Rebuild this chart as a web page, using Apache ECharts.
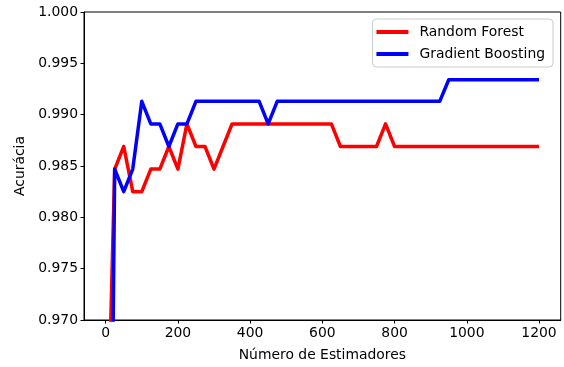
<!DOCTYPE html>
<html>
<head>
<meta charset="utf-8">
<script src="https://cdn.jsdelivr.net/npm/echarts@6/dist/echarts.min.js"></script>
<style>html,body{margin:0;padding:0;background:#fff}#c{width:564px;height:367px}</style>
</head>
<body>
<div id="c"></div>
<script>
var estimators = [1, 25, 50, 75, 100, 125, 150, 175, 200, 225, 250, 275, 300, 325, 350, 375, 400, 425, 450, 475, 500, 525, 550, 575, 600, 625, 650, 675, 700, 725, 750, 775, 800, 825, 850, 875, 900, 925, 950, 975, 1000, 1025, 1050, 1075, 1100, 1125, 1150, 1175, 1200];
var randomForest = [0.952, 0.9847, 0.9869, 0.9825, 0.9825, 0.9847, 0.9847, 0.9869, 0.9847, 0.9891, 0.9869, 0.9869, 0.9847, 0.9869, 0.9891,
  0.9891, 0.9891, 0.9891, 0.9891, 0.9891, 0.9891, 0.9891, 0.9891, 0.9891, 0.9891, 0.9891,
  0.9869, 0.9869, 0.9869, 0.9869, 0.9869, 0.9891,
  0.9869, 0.9869, 0.9869, 0.9869, 0.9869, 0.9869, 0.9869, 0.9869, 0.9869, 0.9869, 0.9869, 0.9869, 0.9869, 0.9869, 0.9869, 0.9869, 0.9869];
var gradientBoosting = [0.900, 0.9847, 0.9825, 0.9847, 0.9913, 0.9891, 0.9891, 0.9869, 0.9891, 0.9891,
  0.9913, 0.9913, 0.9913, 0.9913, 0.9913, 0.9913, 0.9913, 0.9913,
  0.9891,
  0.9913, 0.9913, 0.9913, 0.9913, 0.9913, 0.9913, 0.9913, 0.9913, 0.9913, 0.9913, 0.9913, 0.9913, 0.9913, 0.9913, 0.9913, 0.9913, 0.9913, 0.9913, 0.9913,
  0.9934, 0.9934, 0.9934, 0.9934, 0.9934, 0.9934, 0.9934, 0.9934, 0.9934, 0.9934, 0.9934];
var xTicks = [0, 200, 400, 600, 800, 1000, 1200];
var seriesNames = ['Random Forest', 'Gradient Boosting'];
var xLabel = 'Número de Estimadores';
var yLabel = 'Acurácia';

function pairs(xs, ys) { return xs.map(function (x, i) { return [x, ys[i]]; }); }

var FONT = 'DejaVu Sans';
var FS = 13.9;
var chart = echarts.init(document.getElementById('c'), null, { renderer: 'canvas' });
chart.setOption({
  animation: false,
  backgroundColor: '#fff',
  textStyle: { fontFamily: FONT },
  grid: { left: 84, right: 3.3, top: 12, bottom: 45.5, show: true, borderColor: '#000', borderWidth: 1, containLabel: false },
  legend: {
    orient: 'vertical', right: 11, top: 19,
    backgroundColor: 'rgba(255,255,255,0.8)', borderColor: '#ccc', borderWidth: 1, borderRadius: 4,
    padding: [6, 8, 6, 4], itemGap: 8, itemWidth: 32, itemHeight: 4,
    textStyle: { fontFamily: FONT, fontSize: FS, color: '#000', padding: [0, 0, 0, 6] },
    data: [{ name: seriesNames[0], icon: 'rect' }, { name: seriesNames[1], icon: 'rect' }]
  },
  xAxis: {
    type: 'value', min: -60, max: 1260,
    name: xLabel, nameLocation: 'middle', nameGap: 28,
    nameTextStyle: { fontFamily: FONT, fontSize: FS, color: '#000' },
    axisLine: { show: true, onZero: false, lineStyle: { color: '#000', width: 1 } },
    axisTick: { show: true, length: 3.5, lineStyle: { color: '#000' }, customValues: xTicks },
    axisLabel: { fontFamily: FONT, fontSize: FS, color: '#000', margin: 6, customValues: xTicks, formatter: function (v) { return String(v); } },
    splitLine: { show: false }
  },
  yAxis: {
    type: 'value', min: 0.97, max: 1.0, interval: 0.005,
    name: yLabel, nameLocation: 'middle', nameGap: 55, nameRotate: 90,
    nameTextStyle: { fontFamily: FONT, fontSize: FS, color: '#000' },
    axisLine: { show: true, onZero: false, lineStyle: { color: '#000', width: 1 } },
    axisTick: { show: true, length: 3.5, lineStyle: { color: '#000' } },
    axisLabel: { fontFamily: FONT, fontSize: FS, color: '#000', margin: 6, formatter: function (v) { return v.toFixed(3); } },
    splitLine: { show: false }
  },
  series: [
    { name: seriesNames[0], type: 'line', data: pairs(estimators, randomForest), symbol: 'none', clip: true,
      lineStyle: { color: '#ff0000', width: 3.5, join: 'round' }, itemStyle: { color: '#ff0000' } },
    { name: seriesNames[1], type: 'line', data: pairs(estimators, gradientBoosting), symbol: 'none', clip: true,
      lineStyle: { color: '#0000ff', width: 3.5, join: 'round' }, itemStyle: { color: '#0000ff' } }
  ]
});
</script>
</body>
</html>
